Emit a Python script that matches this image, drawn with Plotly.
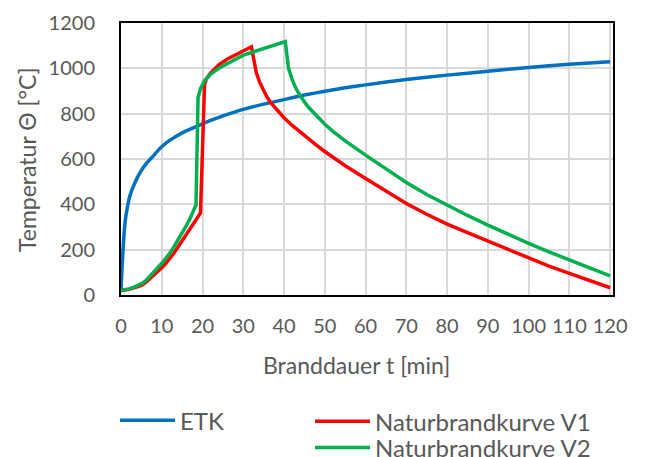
import plotly.graph_objects as go

# ETK (Einheits-Temperaturzeitkurve), values
t_etk = [0, 0.25, 0.5, 0.75, 1, 1.25, 1.5, 2, 2.5, 3, 4, 5, 6, 7, 8, 9, 10, 12, 14, 16, 18, 20, 22, 25, 28, 30,
         35, 40, 45, 50, 55, 60, 70, 80, 90, 100, 110, 120]
etk = [20, 120, 200, 270, 320, 355, 380, 425, 455, 478, 518, 550, 575, 596, 615, 636, 654, 683, 705, 724, 740, 755, 770, 790, 808, 819,
       842, 862, 882, 899, 914, 927, 951, 970, 987, 1004, 1018, 1029]

# Naturbrandkurve V1
t_v1 = [0, 1, 2, 3, 4, 5, 6, 7, 8, 9, 10, 11, 12, 13, 14, 15, 16, 17, 18, 19.5,
        20.5, 21, 22, 23, 24, 26, 28, 30, 32,
        33.2, 34, 35, 36, 37, 38, 40, 42, 44, 46, 48, 50, 55, 60, 65, 70, 75, 80, 85, 90, 95, 100, 105, 110, 115, 120]
v1 = [20, 21, 25, 30, 36, 42, 55, 70, 85, 102, 120, 140, 160, 185, 212, 240, 268, 295, 323, 362,
      930, 955, 980, 998, 1015, 1040, 1058, 1075, 1095,
      980, 940, 902, 868, 843, 821, 782, 748, 717, 688, 660, 633, 570, 514, 458, 404, 356, 313, 275, 238, 200, 161, 127, 95, 63, 32]

# Naturbrandkurve V2
t_v2 = [0, 1, 2, 3, 4, 5, 6, 7, 8, 9, 10, 11, 12, 13, 14, 15, 16, 17, 18.4,
        18.9, 19.5, 20.5, 22, 24, 26, 28, 30, 32, 35, 38, 40.3,
        41.1, 42, 43, 44, 45, 46, 48, 50, 52, 55, 60, 65, 70, 75, 80, 85, 90, 95, 100, 105, 110, 115, 120]
v2 = [20, 22, 27, 33, 41, 50, 62, 80, 100, 120, 140, 162, 185, 213, 242, 272, 305, 340, 397,
      870, 910, 945, 975, 1000, 1020, 1040, 1058, 1070, 1088, 1105, 1118,
      1000, 950, 908, 877, 852, 828, 788, 753, 722, 680, 617, 555, 496, 443, 396, 351, 308, 267, 228, 190, 154, 119, 84]

x_ticks = list(range(0, 121, 10))
y_ticks = list(range(0, 1201, 200))

FONT = "Lato"
GREY = "#595959"

# figure is drawn 8px in from the page corner (default body margin)
W, H = 637, 449
ML, MR, MT, MB = 113, 32, 15, 162
PW, PH = W - ML - MR, H - MT - MB

fig = go.Figure()
fig.add_trace(go.Scatter(x=t_etk, y=etk, mode="lines", name="ETK",
                         line=dict(color="#0070C0", width=3.5, shape="spline", smoothing=0.5),
                         legend="legend"))
fig.add_trace(go.Scatter(x=t_v1, y=v1, mode="lines", name="Naturbrandkurve V1",
                         line=dict(color="#FF0000", width=3.5),
                         legend="legend2"))
fig.add_trace(go.Scatter(x=t_v2, y=v2, mode="lines", name="Naturbrandkurve V2",
                         line=dict(color="#00B050", width=3.5),
                         legend="legend3"))

leg_common = dict(xref="container", yref="container", xanchor="left", yanchor="middle",
                  bgcolor="rgba(0,0,0,0)", font=dict(size=24, color=GREY, family=FONT), itemwidth=55)

fig.update_layout(
    width=W, height=H,
    margin=dict(l=ML, r=MR, t=MT, b=MB, autoexpand=False),
    paper_bgcolor="white", plot_bgcolor="white",
    font=dict(family=FONT, color=GREY, size=20),
    xaxis=dict(range=[0, 120.7], tickvals=x_ticks, ticktext=[str(v) for v in x_ticks],
               showgrid=True, gridcolor="#D9D9D9", gridwidth=1.5,
               showline=True, linecolor="black", linewidth=2, mirror=True,
               zeroline=False, ticks="", ticklabelstandoff=12, automargin=False,
               tickangle=0, tickfont=dict(size=20, color=GREY, family=FONT)),
    yaxis=dict(range=[0, 1200], tickvals=y_ticks, ticktext=[str(v) for v in y_ticks],
               showgrid=True, gridcolor="#D9D9D9", gridwidth=1.5,
               showline=True, linecolor="black", linewidth=2, mirror=True,
               zeroline=False, ticks="", ticklabelstandoff=20, automargin=False,
               tickfont=dict(size=20, color=GREY, family=FONT)),
    showlegend=True,
    legend=dict(leg_common, x=107/W, y=1 - 412.7/H),
    legend2=dict(leg_common, x=302/W, y=1 - 413.7/H),
    legend3=dict(leg_common, x=302/W, y=1 - 440/H),
    annotations=[
        dict(text="Branddauer t [min]", xref="paper", yref="paper",
             x=(348 - ML)/PW, y=(MT + PH - 357)/PH, showarrow=False,
             xanchor="center", yanchor="middle",
             font=dict(size=23, color=GREY, family=FONT)),
        dict(text="Temperatur Θ [°C]", xref="paper", yref="paper",
             x=(19 - ML)/PW, y=(MT + PH - 152)/PH, showarrow=False, textangle=-90,
             xanchor="center", yanchor="middle",
             font=dict(size=23, color=GREY, family=FONT)),
    ],
)

fig.write_html("out.html")
